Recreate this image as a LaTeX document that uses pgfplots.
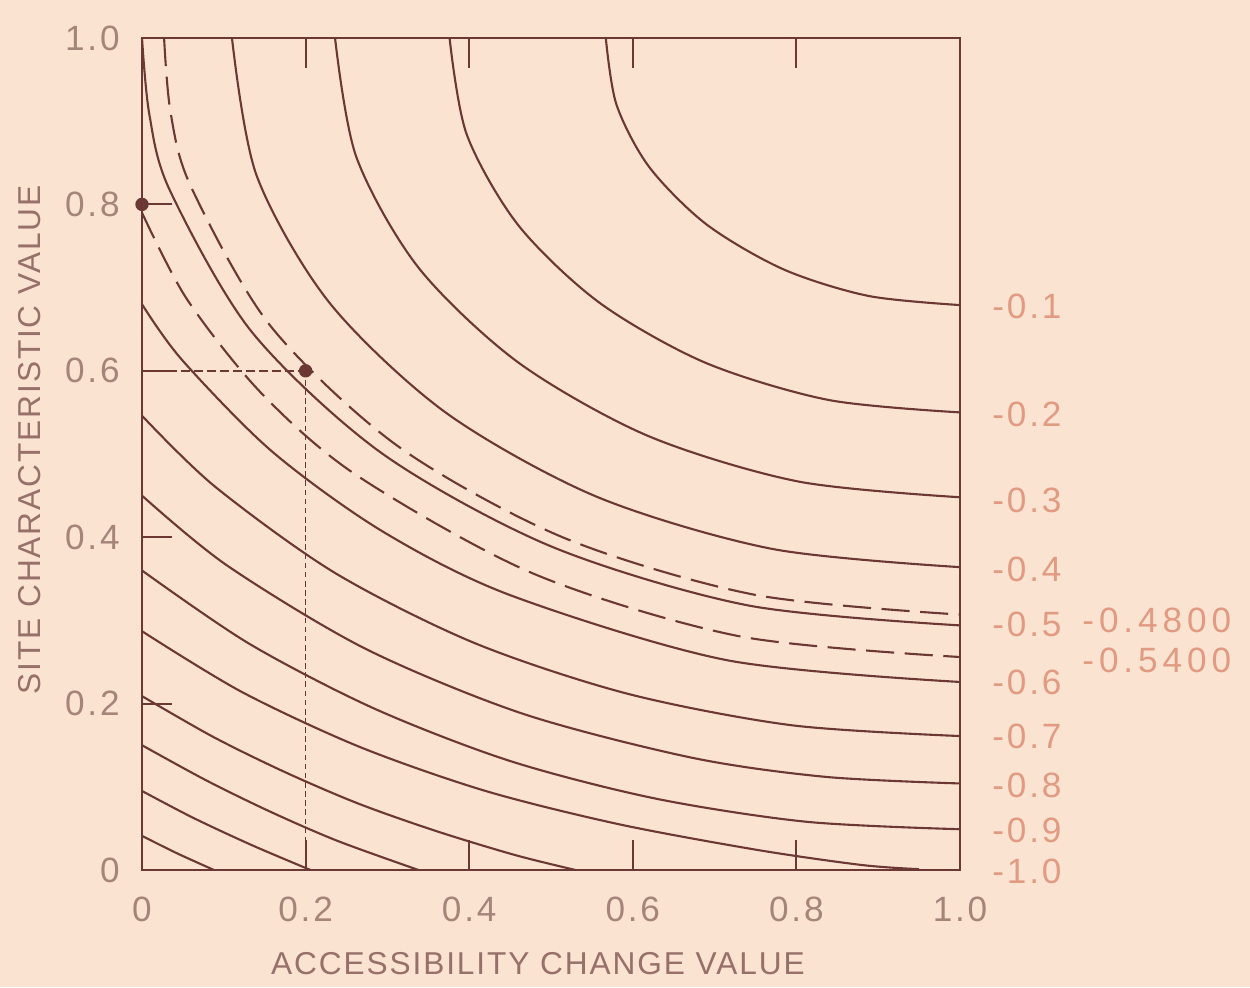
\documentclass[border=0pt]{standalone}
\usepackage{fontspec}
\setmainfont{Liberation Sans}
\newfontfamily\lbl[LetterSpace=8]{Liberation Sans}
\newfontfamily\lvl[LetterSpace=14]{Liberation Sans}
\newfontfamily\ttl[LetterSpace=6]{Liberation Sans}
\usepackage{pgfplots}
\pgfplotsset{compat=1.18}
\usetikzlibrary{backgrounds}
\definecolor{bg}{RGB}{251,227,210}
\definecolor{ink}{RGB}{108,56,52}
\definecolor{ticktxt}{RGB}{165,132,122}
\definecolor{lvltxt}{RGB}{225,155,130}
\definecolor{axtxt}{RGB}{150,112,105}

\begin{document}
\begin{tikzpicture}
\begin{axis}[
  name=ax, scale only axis,
  width=8.18cm, height=8.32cm,
  xmin=0, xmax=1, ymin=0, ymax=1,
  clip=false,
  axis line style={ink, line width=0.6pt},
  xtick={0,0.2,0.4,0.6,0.8,1}, xticklabels={0,0.2,0.4,0.6,0.8,1.0},
  ytick={0,0.2,0.4,0.6,0.8,1}, yticklabels={0,0.2,0.4,0.6,0.8,1.0},
  tick align=inside, xtick pos=both, ytick pos=left,
  major tick length=0.3cm,
  tick style={ink, line width=0.6pt},
  ticklabel style={font=\lbl\fontsize{10}{12}\selectfont, text=ticktxt},
  xticklabel style={yshift=-0.15cm},
  yticklabel style={xshift=-0.1cm},
  xlabel={ACCESSIBILITY CHANGE VALUE},
  ylabel={SITE CHARACTERISTIC VALUE},
  label style={font=\ttl\fontsize{9}{11}\selectfont, text=axtxt},
  xlabel style={at={(axis description cs:0.484,-0.112)}, anchor=center},
  ylabel style={at={(axis description cs:-0.137,0.517)}, anchor=center},
]
% level -0.1
\addplot[ink, line width=0.6pt, smooth] coordinates {(0.567,1)(0.580,0.920)(0.620,0.845)(0.690,0.776)(0.784,0.722)(0.888,0.690)(1,0.679)};
% level -0.2
\addplot[ink, line width=0.6pt, smooth] coordinates {(0.376,1)(0.397,0.884)(0.460,0.775)(0.559,0.682)(0.688,0.610)(0.839,0.565)(1,0.550)};
% level -0.3
\addplot[ink, line width=0.6pt, smooth] coordinates {(0.236,1)(0.262,0.857)(0.338,0.724)(0.460,0.610)(0.618,0.522)(0.802,0.467)(1,0.448)};
% level -0.4
\addplot[ink, line width=0.6pt, smooth] coordinates {(0.110,1)(0.140,0.835)(0.229,0.682)(0.371,0.550)(0.555,0.449)(0.770,0.386)(1,0.364)};
% level -0.48 (dashed)
\addplot[ink, line width=0.6pt, smooth, dash pattern=on 8pt off 3pt] coordinates {(0.027,1)(0.035,0.910)(0.060,0.821)(0.157,0.654)(0.312,0.510)(0.514,0.400)(0.748,0.331)(1,0.307)};
% level -0.5
\addplot[ink, line width=0.6pt, smooth] coordinates {(0,1)(0.009,0.908)(0.034,0.817)(0.134,0.647)(0.293,0.501)(0.500,0.389)(0.741,0.318)(1,0.294)};
% level -0.54 (dashed)
\addplot[ink, line width=0.6pt, smooth, dash pattern=on 8pt off 3pt] coordinates {(0,0.790)(0.055,0.686)(0.146,0.573)(0.263,0.474)(0.479,0.356)(0.730,0.281)(1,0.256)};
% level -0.6
\addplot[ink, line width=0.6pt, smooth] coordinates {(0,0.680)(0.049,0.613)(0.159,0.503)(0.294,0.407)(0.451,0.330)(0.716,0.252)(1,0.226)};
% level -0.7
\addplot[ink, line width=0.6pt, smooth] coordinates {(0,0.546)(0.089,0.461)(0.236,0.357)(0.406,0.273)(0.593,0.212)(0.794,0.174)(1,0.161)};
% level -0.8
\addplot[ink, line width=0.6pt, smooth] coordinates {(0,0.450)(0.104,0.366)(0.273,0.266)(0.465,0.188)(0.672,0.135)(0.835,0.112)(1,0.104)};
% level -0.9
\addplot[ink, line width=0.6pt, smooth] coordinates {(0,0.360)(0.131,0.272)(0.284,0.194)(0.450,0.131)(0.627,0.086)(0.812,0.058)(1,0.049)};
% level -1.0
\addplot[ink, line width=0.6pt, smooth] coordinates {(0,0.287)(0.122,0.214)(0.266,0.148)(0.420,0.095)(0.583,0.055)(0.753,0.024)(0.880,0.006)(0.950,0.001)};
% unlabelled levels below -1.0
\addplot[ink, line width=0.6pt, smooth] coordinates {(0,0.209)(0.087,0.160)(0.174,0.118)(0.264,0.080)(0.359,0.047)(0.456,0.018)(0.530,0)};
\addplot[ink, line width=0.6pt, smooth] coordinates {(0,0.150)(0.078,0.108)(0.157,0.070)(0.239,0.035)(0.338,0)};
\addplot[ink, line width=0.6pt, smooth] coordinates {(0,0.095)(0.062,0.063)(0.134,0.030)(0.206,0)};
\addplot[ink, line width=0.6pt, smooth] coordinates {(0,0.041)(0.043,0.020)(0.088,0)};

% guide lines to the example point
\addplot[ink, line width=0.5pt, dash pattern=on 2.5pt off 1.2pt] coordinates {(0,0.6)(0.2,0.6)};
\addplot[ink, line width=0.5pt, dash pattern=on 1.6pt off 1pt] coordinates {(0.2,0.6)(0.2,0)};
\addplot[only marks, mark=*, mark size=1.7pt, ink] coordinates {(0,0.8)(0.2,0.6)};

% level labels on the right
\foreach \yy/\tt in {0.678/-0.1, 0.547/-0.2, 0.444/-0.3, 0.361/-0.4, 0.295/-0.5, 0.226/-0.6, 0.160/-0.7, 0.102/-0.8, 0.048/-0.9, -0.002/-1.0}{
  \edef\temp{\noexpand\node[anchor=west, xshift=0.2cm, font=\noexpand\lbl\noexpand\fontsize{10}{12}\noexpand\selectfont, text=lvltxt] at (axis cs:1,\yy) {\tt};}
  \temp
}
\node[anchor=west, xshift=1.1cm, font=\lvl\fontsize{10}{12}\selectfont, text=lvltxt] at (axis cs:1,0.300) {-0.4800};
\node[anchor=west, xshift=1.1cm, font=\lvl\fontsize{10}{12}\selectfont, text=lvltxt] at (axis cs:1,0.252) {-0.5400};
\end{axis}
\pgfresetboundingbox
\path[use as bounding box] ([xshift=-1.42cm,yshift=-1.17cm]ax.south west) rectangle ([xshift=2.90cm,yshift=0.38cm]ax.north east);
\begin{scope}[on background layer]
\fill[bg] ([xshift=-1.42cm,yshift=-1.17cm]ax.south west) rectangle ([xshift=2.90cm,yshift=0.38cm]ax.north east);
\end{scope}
\end{tikzpicture}
\end{document}
